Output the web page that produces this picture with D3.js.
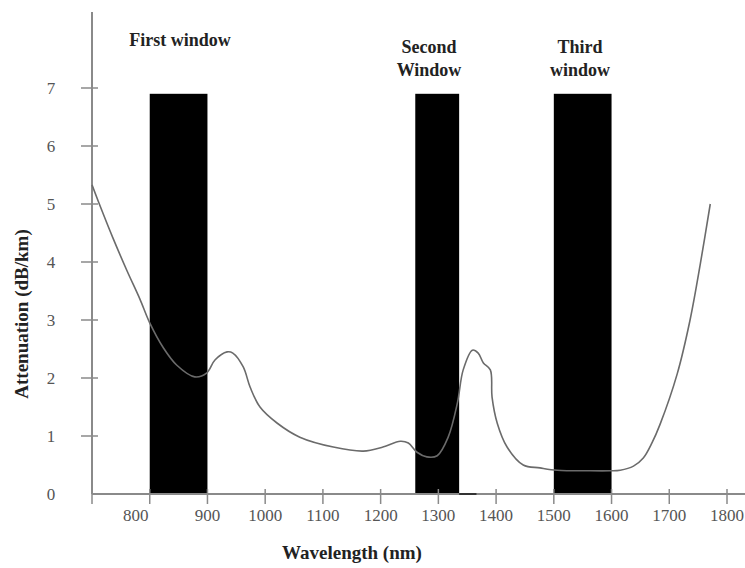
<!DOCTYPE html>
<html lang="en">
<head>
<meta charset="UTF-8" />
<title>Fibre attenuation windows</title>
<script src="https://d3js.org/d3.v7.min.js"></script>
<style>
    body { margin: 0; background: #fff; }
    svg text { font-family: "Liberation Serif", "Times New Roman", serif; }
    .tick-label { font-size: 17px; fill: #555; }
    .title { font-size: 18px; font-weight: bold; fill: #222; }
    .axis-line { stroke: #8a8a8a; stroke-width: 2px; }
    .tick { stroke: #8a8a8a; stroke-width: 1.5px; }
    .curve { fill: none; stroke: #6b6b6b; stroke-width: 1.6px; }
</style>
</head>
<body>
<div id="chart"></div>
<script>
const width = 745, height = 568;

// attenuation curve (nm, dB/km)
const wavelength = [700, 719, 736, 761, 783, 800, 823, 847, 878, 899, 913, 934, 944, 962, 974, 991,
    1021, 1060, 1118, 1170, 1204, 1234, 1248, 1263, 1280, 1298, 1317, 1333, 1343, 1359, 1369,
    1378, 1390, 1393, 1402, 1419, 1447, 1476, 1506, 1560, 1598, 1615, 1638, 1655, 1670, 1684,
    1714, 1736, 1754, 1771];
const attenuation = [5.33, 4.84, 4.42, 3.84, 3.36, 2.95, 2.53, 2.22, 2.02, 2.09, 2.31, 2.45, 2.43, 2.19, 1.84, 1.5,
    1.22, 0.98, 0.81, 0.74, 0.81, 0.91, 0.88, 0.72, 0.64, 0.66, 0.98, 1.57, 2.14, 2.48, 2.43,
    2.26, 2.14, 1.67, 1.22, 0.81, 0.5, 0.45, 0.41, 0.4, 0.4, 0.41, 0.48, 0.62, 0.88, 1.2,
    2.08, 3.0, 3.98, 5.0];

// transmission windows
const windowNames = [["First window"], ["Second", "Window"], ["Third", "window"]];
const windowStart = [800, 1260, 1500];
const windowEnd = [900, 1336, 1600];
const windowTop = 6.9;

const xTicks = [700, 800, 900, 1000, 1100, 1200, 1300, 1400, 1500, 1600, 1700, 1800];
const yTicks = [0, 1, 2, 3, 4, 5, 6, 7];

const x = d3.scaleLinear().domain([700, 1800]).range([92, 727]);
const y = d3.scaleLinear().domain([0, 7]).range([494, 88]);

const svg = d3.select("#chart").append("svg")
    .attr("width", width)
    .attr("height", height);

// windows (bars)
const bars = windowStart.map((s, i) => ({ s, e: windowEnd[i], name: windowNames[i] }));
svg.selectAll(".bar").data(bars).enter().append("rect")
    .attr("class", "bar")
    .attr("x", d => x(d.s))
    .attr("width", d => x(d.e) - x(d.s))
    .attr("y", y(windowTop))
    .attr("height", y(0) - y(windowTop))
    .attr("fill", "#000");

// window titles
const titleX = [180, 429, 580];
svg.selectAll(".wtitle").data(bars).enter().append("text")
    .attr("class", "title")
    .attr("text-anchor", "middle")
    .attr("x", (d, i) => titleX[i])
    .attr("y", d => d.name.length === 1 ? 46 : 53)
    .each(function (d, i) {
        d.name.forEach((line, j) => {
            d3.select(this).append("tspan")
                .attr("x", titleX[i])
                .attr("dy", j === 0 ? 0 : 23)
                .text(line);
        });
    });

// axes
svg.append("line").attr("class", "axis-line")
    .attr("x1", x(700)).attr("x2", width)
    .attr("y1", y(0)).attr("y2", y(0));
svg.append("line").attr("class", "axis-line")
    .attr("x1", x(700)).attr("x2", x(700))
    .attr("y1", y(0)).attr("y2", 12);

svg.selectAll(".xtick").data(xTicks).enter().append("line")
    .attr("class", "tick")
    .attr("x1", d => x(d)).attr("x2", d => x(d))
    .attr("y1", d => d === 700 ? y(0) : y(0) - 5)
    .attr("y2", y(0) + 10);
svg.selectAll(".xlabel").data(xTicks.slice(1)).enter().append("text")
    .attr("class", "tick-label")
    .attr("text-anchor", "middle")
    .attr("x", d => d === 800 ? x(d) - 14 : x(d))
    .attr("y", 521)
    .text(d => d);

svg.selectAll(".ytick").data(yTicks.slice(1)).enter().append("line")
    .attr("class", "tick")
    .attr("x1", x(700) - 11).attr("x2", x(700) + 6)
    .attr("y1", d => y(d)).attr("y2", d => y(d));
svg.selectAll(".ylabel").data(yTicks).enter().append("text")
    .attr("class", "tick-label")
    .attr("text-anchor", "middle")
    .attr("x", 51)
    .attr("y", d => y(d) + 6)
    .text(d => d);

// small stub next to the second window
svg.append("line")
    .attr("x1", x(1336)).attr("x2", x(1366))
    .attr("y1", y(0)).attr("y2", y(0))
    .attr("stroke", "#333").attr("stroke-width", 2);

// curve
const pts = wavelength.map((w, i) => [w, attenuation[i]]);
svg.append("path")
    .datum(pts)
    .attr("class", "curve")
    .attr("d", d3.line().x(d => x(d[0])).y(d => y(d[1])).curve(d3.curveCatmullRom));

// axis titles
svg.append("text").attr("class", "title")
    .attr("text-anchor", "middle")
    .attr("x", 352).attr("y", 559)
    .style("font-size", "19px")
    .text("Wavelength (nm)");
svg.append("text").attr("class", "title")
    .attr("text-anchor", "middle")
    .attr("transform", "translate(28,314) rotate(-90)")
    .style("font-size", "19px")
    .text("Attenuation (dB/km)");
</script>
</body>
</html>
